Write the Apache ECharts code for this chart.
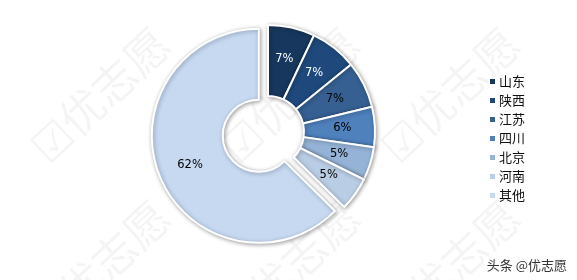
<!DOCTYPE html>
<html>
<head>
<meta charset="utf-8">
<script src="https://cdn.jsdelivr.net/npm/echarts@6/dist/echarts.min.js"></script>
<style>
html,body{margin:0;padding:0;background:#fff;}
#c{width:577px;height:280px;}
</style>
</head>
<body>
<div id="c"></div>
<script>
const categories = ['山东','陕西','江苏','四川','北京','河南','其他'];
const values = [7, 7, 7, 6, 5, 5, 62];
const colors = ['#17375e','#1f497d','#366092','#4f81bd','#95b3d7','#b9cde5','#c6d9f1'];
const labelColors = ['#ffffff','#ffffff','#000000','#000000','#000000','#000000','#000000'];
const explodedCategory = '其他';

const chart = echarts.init(document.getElementById('c'), null, {renderer:'canvas'});

const wmPositions = [[100,95],[290,95],[450,95],[100,268],[290,268],[450,268]];
const graphics = wmPositions.map(p => ({
  type:'text', x:p[0], y:p[1], rotation: Math.PI*0.24, silent:true, z:-10,
  style:{text:'☑优志愿', fill:'rgba(0,0,0,0.045)', font:'44px "Noto Sans CJK SC"', align:'center', verticalAlign:'middle'}
}));
graphics.push({
  type:'text', right:10, bottom:8, silent:true,
  style:{text:'头条 @优志愿', fill:'#333', font:'13px "Noto Sans CJK SC"'}
});

chart.setOption({
  animation:false,
  backgroundColor:'#fff',
  graphic: graphics,
  legend:{
    orient:'vertical',
    left:483, top:70,
    itemWidth:7, itemHeight:7, itemGap:6,
    icon:'rect',
    textStyle:{fontFamily:'"Noto Sans CJK SC"', fontSize:13, color:'#111', lineHeight:13, padding:[0,0,0,-2]},
    data: categories
  },
  series:[{
    type:'pie',
    center:[268,132],
    radius:[36,107],
    startAngle:90,
    clockwise:true,
    selectedMode:'multiple',
    selectedOffset:10,
    avoidLabelOverlap:false,
    itemStyle:{borderColor:'#fff', borderWidth:2, shadowBlur:4, shadowColor:'rgba(0,0,0,0.35)', shadowOffsetX:1, shadowOffsetY:1},
    label:{show:true, position:'inside', formatter:'{c}%', fontFamily:'"DejaVu Sans"', fontSize:11.5},
    labelLine:{show:false},
    emphasis:{disabled:true},
    data: categories.map((n,i)=>({
      name:n, value:values[i], selected: n===explodedCategory,
      itemStyle:{color:colors[i]},
      label:{color:labelColors[i]}
    }))
  }]
});
</script>
</body>
</html>
